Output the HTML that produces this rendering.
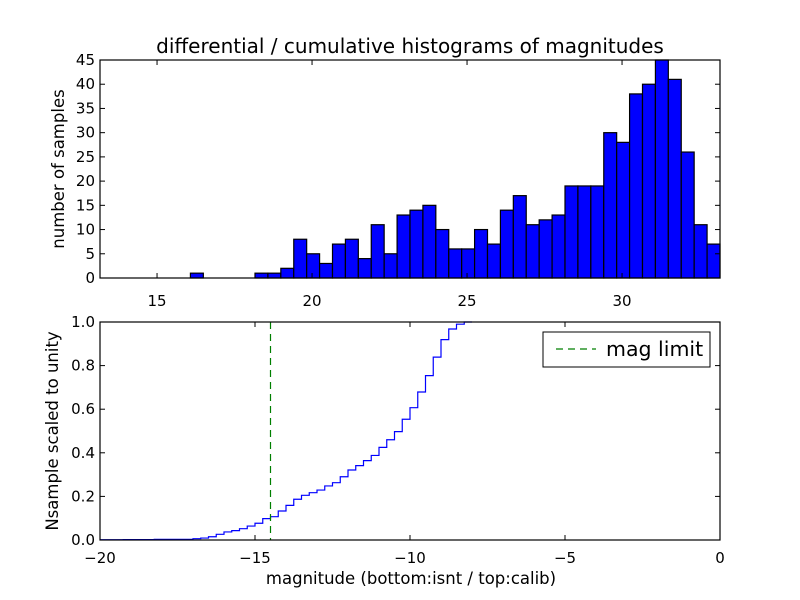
<!DOCTYPE html>
<html><head><meta charset="utf-8"><style>
body{margin:0;background:#fff;}
svg{display:block;font-family:"DejaVu Sans","Liberation Sans",sans-serif;}
</style></head><body>
<svg id="c" width="800" height="600" viewBox="0 0 800 600">
<rect width="800" height="600" fill="#fff"/>
</svg>
<script>
// top histogram data
const histStart = 13.16;
const histBinWidth = 20/48;
const histCounts = [0,0,0,0,0,0,0,1,0,0,0,0,1,1,2,8,5,3,7,8,4,11,5,13,14,15,10,6,6,10,7,14,17,11,12,13,19,19,19,30,28,38,40,45,41,26,11,7];
const topXTicks = [15,20,25,30];
const topYTicks = [0,5,10,15,20,25,30,35,40,45];
// bottom cumulative data
const cumStart = -20;
const cumStep = 0.25;
const cumValues = [0.001,0.001,0.001,0.002,0.002,0.002,0.002,0.003,0.003,0.003,0.003,0.003,
  0.006,0.009,0.015,0.026,0.037,0.043,0.052,0.064,0.077,0.098,0.107,0.133,0.159,0.187,0.205,0.217,0.229,0.248,0.263,0.290,
  0.321,0.341,0.364,0.388,0.425,0.460,0.497,0.554,0.607,0.679,0.754,0.839,0.919,0.968,0.990,1.0];
const magLimit = [-14.5];
const botXTicks = [-20,-15,-10,-5,0];
const botYTicks = [0,0.2,0.4,0.6,0.8,1.0];

const svg = document.getElementById('c');
const NS = 'http://www.w3.org/2000/svg';
function mk(tag, attrs, parent){const e=document.createElementNS(NS,tag);for(const k in attrs)e.setAttribute(k,attrs[k]);(parent||svg).appendChild(e);return e;}

const L=100,R=720;
const T1=60,B1=278, T2=322,B2=540;
const xTop = v => L + (v-13.16)/20*(R-L);
const yTop = v => B1 - v/45*(B1-T1);
const xBot = v => L + (v+20)/20*(R-L);
const yBot = v => B2 - v*(B2-T2);

let t = mk('text',{x:410,y:53,'text-anchor':'middle','font-size':20});
t.textContent='differential / cumulative histograms of magnitudes';



const gBars = mk('g',{});


histCounts.forEach((c,i)=>{
  if(c<=0) return;
  const x0=xTop(histStart+i*histBinWidth), x1=xTop(histStart+(i+1)*histBinWidth);
  const r=mk('rect',{x:x0,y:yTop(c),width:Math.min(x1,R)-x0,height:B1-yTop(c),fill:'#0000ff',stroke:'#000','stroke-width':1.2},gBars);
  
  
});

let f1=mk('rect',{x:L,y:T1,width:R-L,height:B1-T1,fill:'none',stroke:'#000','stroke-width':1.2});


topXTicks.forEach(v=>{
  const x=xTop(v);
  mk('line',{x1:x,y1:B1,x2:x,y2:B1-5,stroke:'#000'});
  mk('line',{x1:x,y1:T1,x2:x,y2:T1+5,stroke:'#000'});
  const tx=mk('text',{x:x,y:B1+28,'text-anchor':'middle','font-size':15});
  tx.textContent=v;
  
  
});
topYTicks.forEach(v=>{
  const y=yTop(v);
  mk('line',{x1:L,y1:y,x2:L+5,y2:y,stroke:'#000'});
  mk('line',{x1:R,y1:y,x2:R-5,y2:y,stroke:'#000'});
  const tx=mk('text',{x:L-5,y:y+5,'text-anchor':'end','font-size':15});
  tx.textContent=v;
  
  
});
t=mk('text',{x:0,y:0,'text-anchor':'middle','font-size':16.5,transform:'translate(64,169) rotate(-90)'});
t.textContent='number of samples';



let d='';
cumValues.forEach((v,i)=>{
  const x0=xBot(cumStart+i*cumStep), x1=xBot(cumStart+(i+1)*cumStep), y=yBot(v);
  d += (i===0?'M':'L')+x0+','+y+'L'+x1+','+y;
});
let p=mk('path',{d:d,fill:'none',stroke:'#0000ff','stroke-width':1.2});



magLimit.forEach(m=>{
  const ml=mk('line',{x1:xBot(m),y1:T2,x2:xBot(m),y2:B2,stroke:'#007f00','stroke-width':1.2,'stroke-dasharray':'7,5'});
  
  
});

let f2=mk('rect',{x:L,y:T2,width:R-L,height:B2-T2,fill:'none',stroke:'#000','stroke-width':1.2});


botXTicks.forEach(v=>{
  const x=xBot(v);
  mk('line',{x1:x,y1:B2,x2:x,y2:B2-5,stroke:'#000'});
  mk('line',{x1:x,y1:T2,x2:x,y2:T2+5,stroke:'#000'});
  const tx=mk('text',{x:x,y:B2+23,'text-anchor':'middle','font-size':15});
  tx.textContent=(v<0?'\u2212'+(-v):v);
  
  
});
botYTicks.forEach(v=>{
  const y=yBot(v);
  mk('line',{x1:L,y1:y,x2:L+5,y2:y,stroke:'#000'});
  mk('line',{x1:R,y1:y,x2:R-5,y2:y,stroke:'#000'});
  const tx=mk('text',{x:L-5,y:y+5,'text-anchor':'end','font-size':15});
  tx.textContent=v.toFixed(1);
  
  
});
t=mk('text',{x:411,y:584,'text-anchor':'middle','font-size':16.5});
t.textContent='magnitude (bottom:isnt / top:calib)';


t=mk('text',{x:0,y:0,'text-anchor':'middle','font-size':16.5,transform:'translate(58,431) rotate(-90)'});
t.textContent='Nsample scaled to unity';



const lg=mk('g',{});


mk('rect',{x:543,y:332,width:167,height:35,fill:'#fff',stroke:'#000','stroke-width':1},lg);
const ll=mk('line',{x1:556,y1:349,x2:596,y2:349,stroke:'#007f00','stroke-width':1.2,'stroke-dasharray':'7,5'},lg);


const lt=mk('text',{x:606,y:356,'font-size':20.5},lg);
lt.textContent='mag limit';


</script>
</body></html>
